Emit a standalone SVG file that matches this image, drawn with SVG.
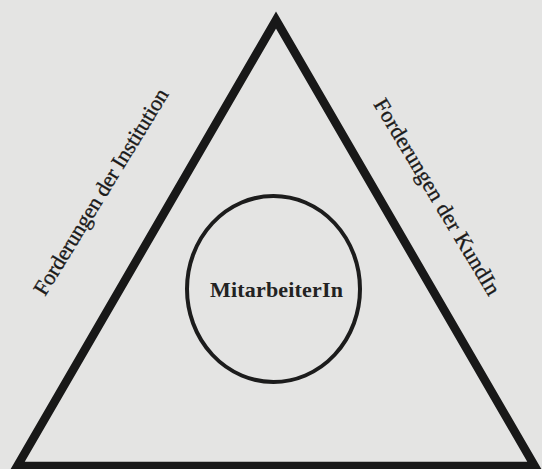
<svg xmlns="http://www.w3.org/2000/svg" width="542" height="469" viewBox="0 0 542 469">
  <style>
    .bg { fill: #e4e4e3; }
    .tri { fill: none; stroke: #181818; stroke-width: 8.5; stroke-linejoin: miter; stroke-miterlimit: 10; }
    .ell { fill: none; stroke: #1c1c1c; stroke-width: 4; }
    .lbl { font-family: "Liberation Serif", "Times New Roman", serif; font-size: 22px; fill: #1a1a1a; stroke: #1a1a1a; stroke-width: 0.35; }
    .bold { font-weight: bold; stroke-width: 0; fill: #222; }
  </style>
  <rect class="bg" x="0" y="0" width="542" height="469"/>
  <g id="connectors">
    <path id="triangle" class="tri" d="M276,20 L534.7,466 L17.3,466 Z"/>
  </g>
  <g id="node-institution">
    <text class="lbl" transform="translate(45,297) rotate(-58.5)" textLength="238" lengthAdjust="spacing">Forderungen der Institution</text>
  </g>
  <g id="node-kundin">
    <text class="lbl" transform="translate(373,104) rotate(59)" textLength="225" lengthAdjust="spacing">Forderungen der KundIn</text>
  </g>
  <g id="node-mitarbeiterin">
    <ellipse class="ell" cx="273.5" cy="289" rx="86.5" ry="93"/>
    <text class="lbl bold" x="276.5" y="297" text-anchor="middle" textLength="133" lengthAdjust="spacing">MitarbeiterIn</text>
  </g>
</svg>
